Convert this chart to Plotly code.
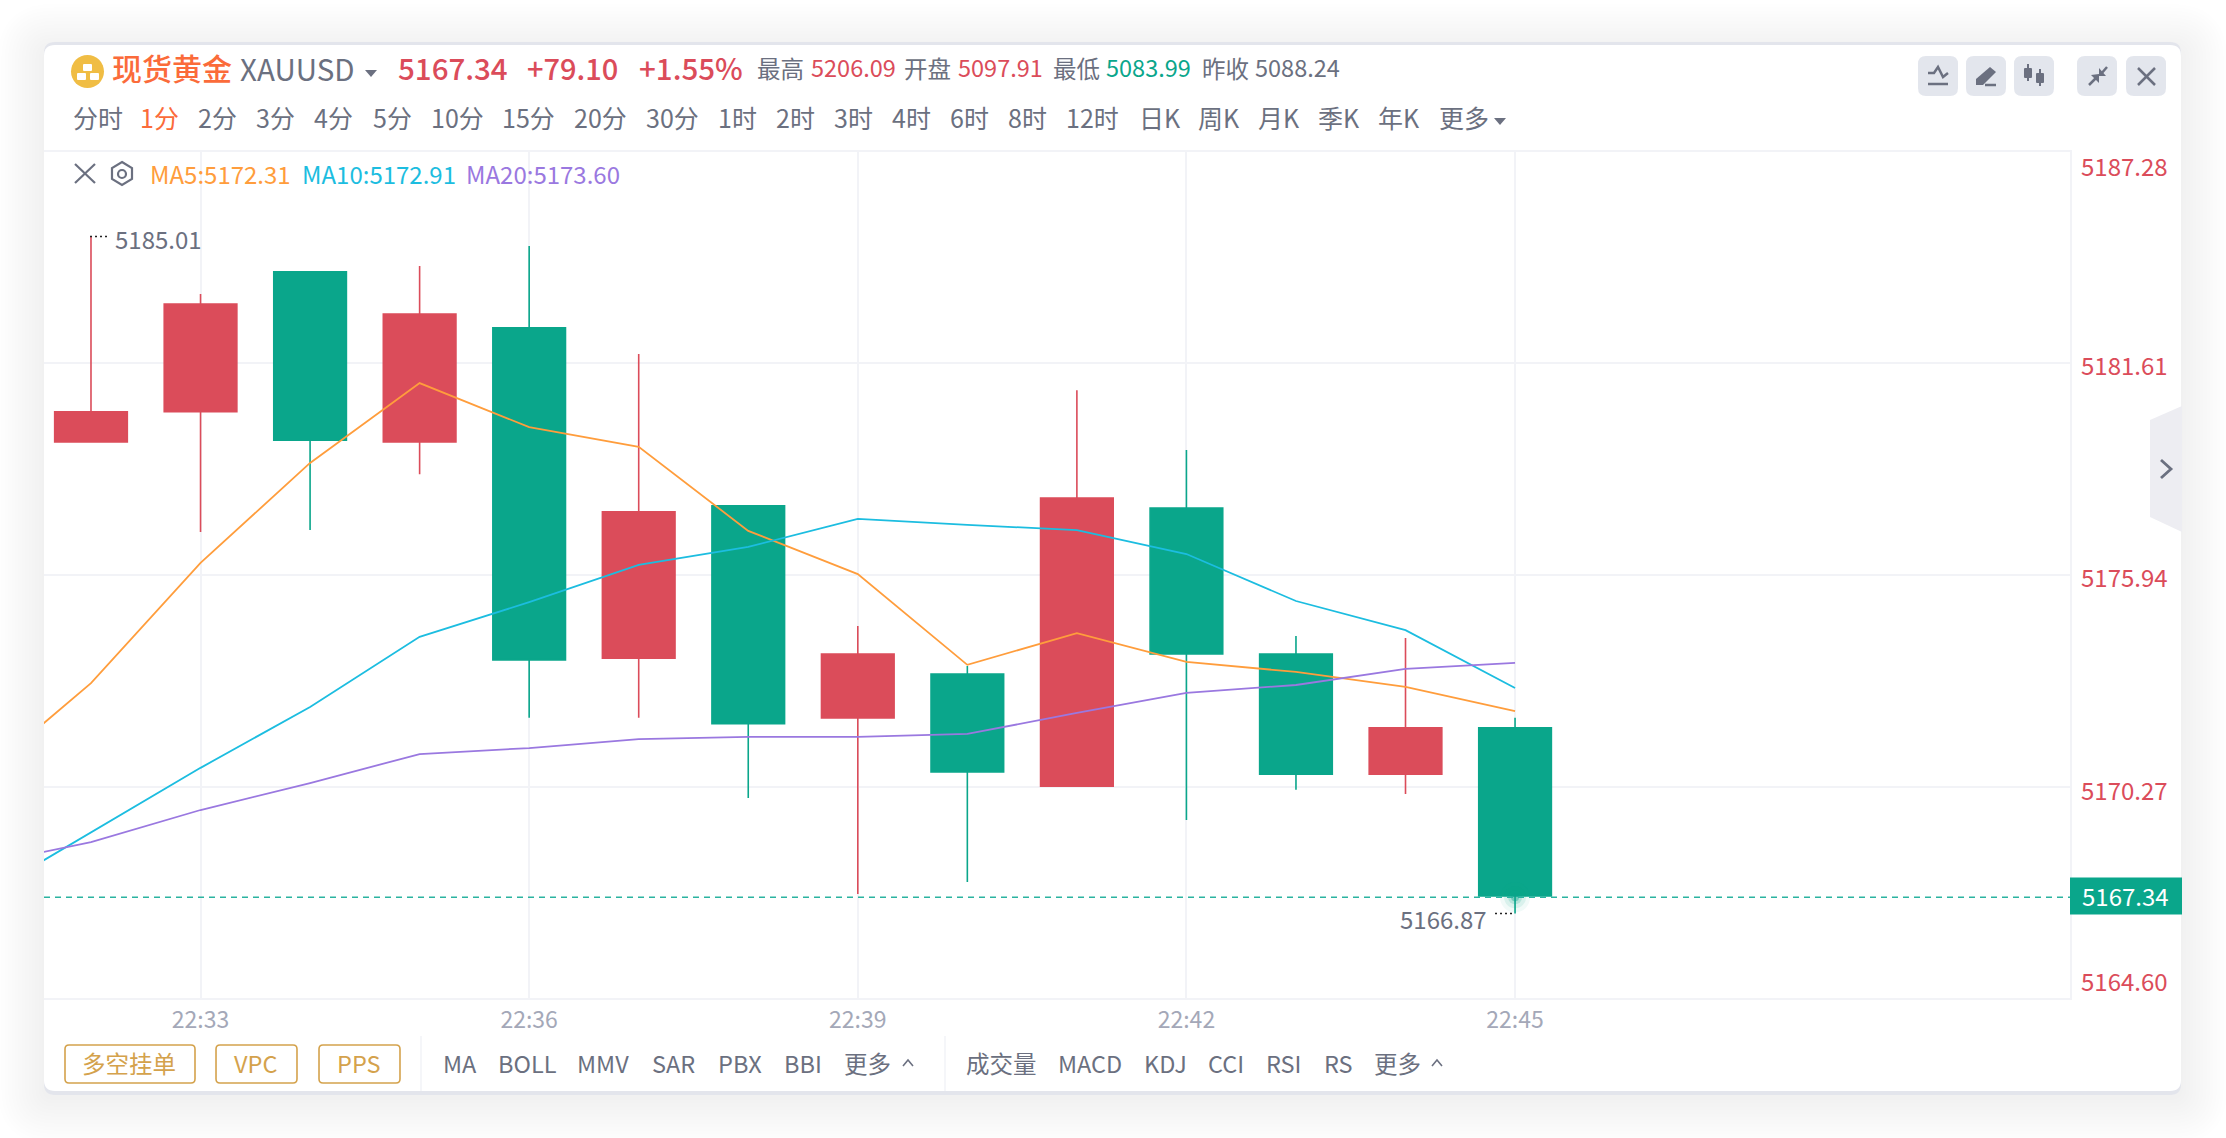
import plotly.graph_objects as go

W, H = 2226, 1138
FONT = 'Noto Sans CJK SC'
RED = '#db4c5a'
GREEN = '#0aa68b'
GRAY = '#6b7080'
ORANGE = '#ff9d3c'
CYAN = '#1cbde0'
PURPLE = '#9a78e0'
GOLD = '#d4a24c'
GRID = '#f2f3f7'

# data
times = ['22:32', '22:33', '22:34', '22:35', '22:36', '22:37', '22:38',
         '22:39', '22:40', '22:41', '22:42', '22:43', '22:44', '22:45']
opens = [5179.50, 5180.31, 5184.06, 5179.50, 5182.56, 5173.71, 5177.79,
         5172.11, 5173.28, 5170.28, 5177.73, 5173.82, 5170.60, 5171.84]
highs = [5185.01, 5183.47, 5184.06, 5184.22, 5184.75, 5181.86, 5177.79,
         5174.57, 5173.50, 5180.89, 5179.29, 5174.30, 5174.25, 5172.11]
lows = [5179.50, 5177.09, 5177.14, 5178.64, 5172.11, 5172.11, 5169.96,
        5167.39, 5167.71, 5170.28, 5169.37, 5170.18, 5170.07, 5166.87]
closes = [5180.31, 5183.20, 5179.55, 5182.93, 5173.66, 5177.63, 5171.95,
          5173.82, 5170.66, 5178.00, 5173.82, 5170.60, 5171.84, 5167.34]

# the MA lines come in from a bar left of the visible window
ma_times = ['22:31'] + times
ma5 = [5170.55, 5173.04, 5176.26, 5178.94, 5181.08, 5179.90, 5179.37, 5177.12,
       5175.96, 5173.53, 5174.38, 5173.61, 5173.34, 5172.94, 5172.29]
ma10 = [5167.31, 5169.05, 5170.77, 5172.40, 5174.28, 5175.21, 5176.21, 5176.69,
        5177.44, 5177.28, 5177.14, 5176.50, 5175.24, 5174.46, 5172.91]
ma20 = [5168.17, 5168.78, 5169.64, 5170.36, 5171.14, 5171.30, 5171.54, 5171.60,
        5171.60, 5171.68, 5172.24, 5172.78, 5172.99, 5173.42, 5173.58]

y_ticks = [5187.28, 5181.61, 5175.94, 5170.27, 5164.60]
y_tick_text = ['5187.28', '5181.61', '5175.94', '5170.27', '5164.60']
x_ticks = ['22:33', '22:36', '22:39', '22:42', '22:45']
last_price = 5167.34
last_line = 5167.30
high_point = 5185.01
low_point = 5166.87

periods = ['分时', '1分', '2分', '3分', '4分', '5分', '10分', '15分', '20分', '30分',
           '1时', '2时', '3时', '4时', '6时', '8时', '12时', '日K', '周K', '月K', '季K', '年K', '更多']
period_x = [72, 139, 197, 255, 313, 372, 430, 501, 573, 645,
            717, 775, 833, 891, 949, 1007, 1065, 1138, 1197, 1257, 1317, 1377, 1438]
main_ind = ['MA', 'BOLL', 'MMV', 'SAR', 'PBX', 'BBI', '更多']
main_ind_x = [442, 497, 576, 651, 717, 783, 843]
sub_ind = ['成交量', 'MACD', 'KDJ', 'CCI', 'RSI', 'RS', '更多']
sub_ind_x = [965, 1057, 1143, 1207, 1265, 1323, 1373]


def px(v):
    return v / W


def py(v):
    return 1 - v / H


shapes = []
annotations = []


def poly(points, fill=None, line=None, width=0, close=True, layer='above'):
    d = 'M' + ' L'.join('%.5f,%.5f' % (px(a), py(b)) for a, b in points)
    if close:
        d += ' Z'
    shapes.append(dict(type='path', path=d, xref='paper', yref='paper', layer=layer,
                       fillcolor=fill if fill else 'rgba(0,0,0,0)',
                       line=dict(color=line if line else 'rgba(0,0,0,0)', width=width)))


def rrect(x0, y0, x1, y1, r, fill=None, line=None, width=0, layer='above'):
    d = ('M%.5f,%.5f ' % (px(x0 + r), py(y0)) +
         'L%.5f,%.5f ' % (px(x1 - r), py(y0)) +
         'Q%.5f,%.5f %.5f,%.5f ' % (px(x1), py(y0), px(x1), py(y0 + r)) +
         'L%.5f,%.5f ' % (px(x1), py(y1 - r)) +
         'Q%.5f,%.5f %.5f,%.5f ' % (px(x1), py(y1), px(x1 - r), py(y1)) +
         'L%.5f,%.5f ' % (px(x0 + r), py(y1)) +
         'Q%.5f,%.5f %.5f,%.5f ' % (px(x0), py(y1), px(x0), py(y1 - r)) +
         'L%.5f,%.5f ' % (px(x0), py(y0 + r)) +
         'Q%.5f,%.5f %.5f,%.5f Z' % (px(x0), py(y0), px(x0 + r), py(y0)))
    shapes.append(dict(type='path', path=d, xref='paper', yref='paper', layer=layer,
                       fillcolor=fill if fill else 'rgba(0,0,0,0)',
                       line=dict(color=line if line else 'rgba(0,0,0,0)', width=width)))


def seg(x0, y0, x1, y1, color=GRAY, width=2, dash=None, layer='above'):
    shapes.append(dict(type='line', xref='paper', yref='paper', layer=layer,
                       x0=px(x0), y0=py(y0), x1=px(x1), y1=py(y1),
                       line=dict(color=color, width=width, dash=dash)))


def label(x, y, text, size=23, color=GRAY, anchor='left', weight=None):
    annotations.append(dict(x=px(x), y=py(y), xref='paper', yref='paper', text=text,
                            showarrow=False, xanchor=anchor, yanchor='middle', borderpad=0,
                            font=dict(family=FONT, size=size, color=color, weight=weight)))


# card shadow, stacked from wide to narrow
for i in range(14):
    g = 46 - i * 3.4
    rrect(44 - g, 50 - g, 2181 + g, 1098 + g, 10 + g, fill='rgba(70,80,110,0.0085)', layer='below')
rrect(44, 42, 2181, 1095, 11, fill='#e3e5ec', layer='below')
rrect(44, 45, 2181, 1091, 11, fill='#ffffff', layer='below')

# header
shapes.append(dict(type='circle', xref='paper', yref='paper', x0=px(71), x1=px(104),
                   y0=py(55), y1=py(88), fillcolor='#f0bd44', line=dict(width=0)))
for bx, by in [(83, 64), (77, 73), (90, 73)]:
    rrect(bx, by, bx + 9, by + 7, 1, fill='#ffffff')
label(111, 67, '现货黄金', 30, '#fb6b3a', weight=500)
label(239, 68, 'XAUUSD', 29.5, GRAY)
poly([(365, 70), (377, 70), (371, 77)], fill=GRAY)
label(397, 67, '5167.34', 29.5, RED, weight=500)
label(526, 67, '+79.10', 29, RED, weight=500)
label(638, 67, '+1.55%', 29.5, RED, weight=500)
label(756, 68, '最高', 23.5)
label(810, 67, '5206.09', 23.5, RED)
label(903, 68, '开盘', 23.5)
label(957, 67, '5097.91', 23.5, RED)
label(1052, 68, '最低', 23.5)
label(1105, 67, '5083.99', 23.5, GREEN)
label(1201, 68, '昨收', 23.5)
label(1254, 67, '5088.24', 23.5)

# period row
for name, x in zip(periods, period_x):
    label(x, 117, name, 25, '#fb6b3a' if name == '1分' else GRAY)
poly([(1494, 118), (1506, 118), (1500, 125)], fill=GRAY)

# toolbar buttons
for x0 in [1918, 1966, 2014, 2077, 2126]:
    rrect(x0, 56, x0 + 40, 96, 8, fill='#e3e6ed')
poly([(1928, 73), (1934, 73), (1938, 67), (1943, 77), (1948, 73)], line=GRAY, width=2.5, close=False)
seg(1928, 84, 1948, 84, width=2.5)
poly([(1976, 85), (1976, 79), (1990, 67), (1996, 72), (1983, 85)], fill=GRAY)
seg(1985, 85, 1996, 85, width=2.5)
for cx, top, b0, b1, bot in [(2028, 64, 68, 78, 81), (2040, 69, 73, 83, 86)]:
    seg(cx, top, cx, bot, width=2)
    rrect(cx - 4, b0, cx + 4, b1, 1, fill=GRAY)
seg(2089, 85, 2096, 78, width=2.5)
poly([(2099, 74), (2099, 83), (2091, 75)], fill=GRAY)
seg(2107, 67, 2101, 74, width=2.5)
poly([(2099, 76), (2099, 68), (2106, 76)], fill=GRAY)
seg(2138, 68, 2155, 85, width=2.5)
seg(2138, 85, 2155, 68, width=2.5)

# indicator legend
seg(75, 164, 95, 183, width=2.2)
seg(75, 183, 95, 164, width=2.2)
poly([(122, 162), (132, 168), (132, 179), (122, 185), (112, 179), (112, 168)], line=GRAY, width=2.2)
shapes.append(dict(type='circle', xref='paper', yref='paper', x0=px(118), x1=px(126), y0=py(170), y1=py(178),
                   line=dict(color=GRAY, width=2.2)))
label(149, 173, 'MA5:5172.31', 24, ORANGE)
label(301, 173, 'MA10:5172.91', 24, CYAN)
label(465, 173, 'MA20:5173.60', 24, PURPLE)

# price labels on the right
tick_y = [166, 364, 576, 789, 980]
for txt, y in zip(y_tick_text, tick_y):
    label(2169, y, txt, 24, RED, anchor='right')
shapes.append(dict(type='rect', xref='paper', yref='y', x0=px(2070), x1=px(2182),
                   y0=last_price - 0.5, y1=last_price + 0.49, fillcolor=GREEN, line=dict(width=0)))
annotations.append(dict(x=px(2125), y=last_price, xref='paper', yref='y', text='5167.34', showarrow=False,
                        xanchor='center', yanchor='middle', font=dict(family=FONT, size=24, color='#ffffff')))

# last price line
shapes.append(dict(type='line', xref='paper', yref='y', x0=px(44), x1=px(2070), y0=last_line, y1=last_line,
                   line=dict(color='#2bb3a0', width=1.5, dash='6px,5px')))

# high and low markers
shapes.append(dict(type='line', xref='paper', yref='y', x0=px(90), x1=px(110), y0=high_point, y1=high_point,
                   line=dict(color='#222222', width=1.5, dash='2px,3px')))
annotations.append(dict(x=px(113), y=high_point, yshift=-2, xref='paper', yref='y', text='5185.01', showarrow=False,
                        xanchor='left', yanchor='middle', font=dict(family=FONT, size=24, color=GRAY)))
shapes.append(dict(type='line', xref='paper', yref='y', x0=px(1495), x1=px(1515), y0=low_point, y1=low_point,
                   line=dict(color='#222222', width=1.5, dash='2px,3px')))
annotations.append(dict(x=px(1489), y=low_point, yshift=-5, xref='paper', yref='y', text='5166.87', showarrow=False,
                        xanchor='right', yanchor='middle', font=dict(family=FONT, size=24, color=GRAY)))

# bottom toolbar
for x0, x1, name in [(65, 195, '多空挂单'), (216, 297, 'VPC'), (319, 400, 'PPS')]:
    rrect(x0, 1045, x1, 1083, 4, line=GOLD, width=1.6)
    label((x0 + x1) / 2 - 1, 1063, name, 23.5, GOLD, anchor='center')
seg(421, 1036, 421, 1091, color=GRID, width=1.5)
seg(945, 1036, 945, 1091, color=GRID, width=1.5)
for name, x in zip(main_ind + sub_ind, main_ind_x + sub_ind_x):
    label(x, 1063, name, 23.5)
for cx in [908, 1437]:
    poly([(cx - 5, 1066), (cx, 1060), (cx + 5, 1066)], line=GRAY, width=1.6, close=False)

# collapse tab on the right edge
poly([(2150, 420), (2182, 406), (2182, 532), (2150, 517)], fill='#ededf2')
poly([(2161, 460), (2171, 469), (2161, 478)], line=GRAY, width=2.8, close=False)

fig = go.Figure()
# glow under the last bar
for size, alpha in [(30, 0.06), (22, 0.1), (14, 0.18), (8, 0.4)]:
    fig.add_trace(go.Scatter(x=[times[-1]], y=[last_line], mode='markers', hoverinfo='skip', showlegend=False,
                             marker=dict(size=size, color='rgba(10,166,139,%s)' % alpha, line=dict(width=0))))
fig.add_trace(go.Candlestick(
    x=times, open=opens, high=highs, low=lows, close=closes, hoverinfo='skip', showlegend=False,
    increasing=dict(line=dict(color=RED, width=1.6), fillcolor=RED),
    decreasing=dict(line=dict(color=GREEN, width=1.6), fillcolor=GREEN)))
for name, values, color in [('MA5', ma5, ORANGE), ('MA10', ma10, CYAN), ('MA20', ma20, PURPLE)]:
    fig.add_trace(go.Scatter(x=ma_times, y=values, name=name, mode='lines', hoverinfo='skip', showlegend=False,
                             line=dict(color=color, width=1.8)))

fig.update_layout(
    template='none', width=W, height=H, showlegend=False, hovermode=False,
    margin=dict(l=0, r=0, t=0, b=0),
    paper_bgcolor='#ffffff', plot_bgcolor='rgba(0,0,0,0)',
    boxgap=0.337, boxgroupgap=0,
    shapes=shapes, annotations=annotations,
    font=dict(family=FONT),
    xaxis=dict(type='category', categoryorder='array', categoryarray=ma_times,
               domain=[44 / W, 2070 / W], range=[0.571, 19.066], automargin=False,
               rangeslider=dict(visible=False), tickmode='array', tickvals=x_ticks, ticktext=x_ticks,
               showgrid=True, gridcolor=GRID, gridwidth=1.5, zeroline=False,
               showline=True, linecolor=GRID, linewidth=2, mirror=True, ticks='',
               ticklabelstandoff=0, tickfont=dict(family=FONT, size=23, color='#a4a8b8')),
    yaxis=dict(domain=[1 - 998.1 / H, 1 - 151.7 / H], range=[y_ticks[-1], y_ticks[0]], side='right', automargin=False,
               tickmode='array', tickvals=y_ticks, showticklabels=False, ticks='',
               showgrid=True, gridcolor=GRID, gridwidth=1.5, zeroline=False,
               showline=True, linecolor=GRID, linewidth=2),
)

fig.write_html("out.html", config={'displayModeBar': False}, post_script="document.body.style.margin='0';")
